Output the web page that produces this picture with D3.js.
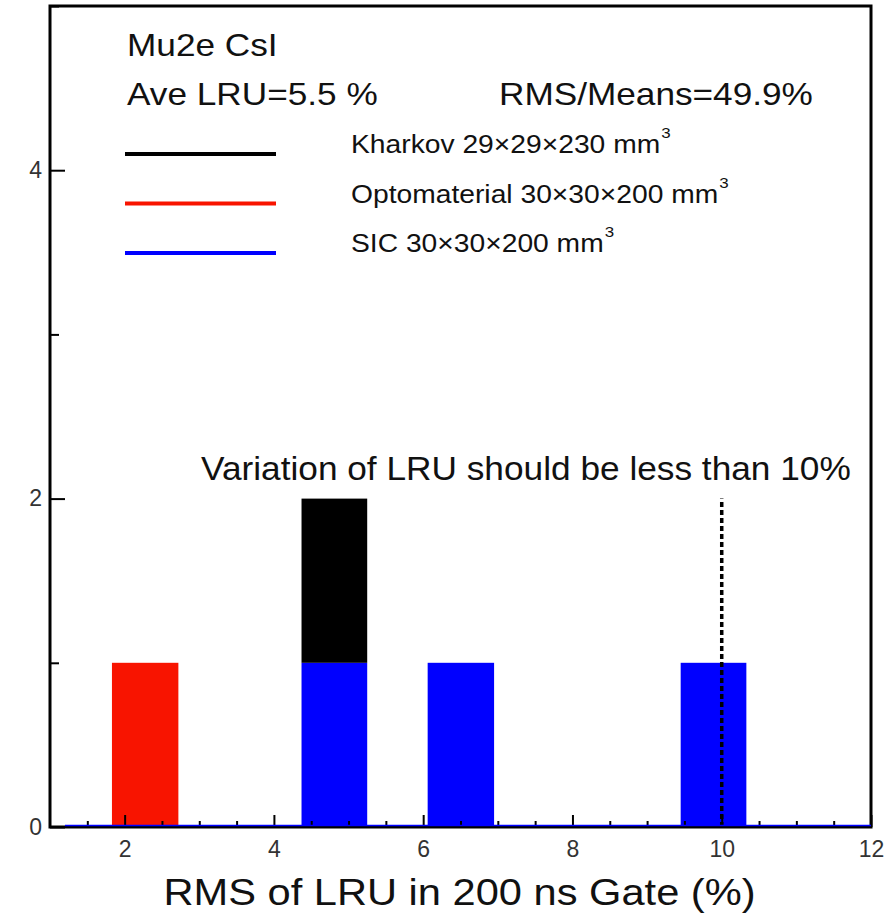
<!DOCTYPE html>
<html>
<head>
<meta charset="UTF-8">
<title>RMS of LRU</title>
<style>
  body { margin: 0; background: #fff; }
  svg text { font-family: "Liberation Sans", Arial, sans-serif; fill: #111; }
</style>
</head>
<body>
<div id="chart"></div>
<script src="https://cdn.jsdelivr.net/npm/d3@7"></script>
<script>
// histogram bins (RMS of LRU, %)
var binLo = [1.83, 4.37, 6.06, 9.45];
var binHi = [2.72, 5.25, 6.95, 10.33];
// counts per bin
var kharkov = [0, 1, 0, 0];
var optomaterial = [1, 0, 0, 0];
var sic = [0, 1, 1, 1];

var stackKeys = ["SIC", "Optomaterial", "Kharkov"];   // bottom -> top
var legendNames = ["Kharkov", "Optomaterial", "SIC"];
var legendDims = ["29×29×230", "30×30×200", "30×30×200"];
var colors = { "Kharkov": "#000000", "Optomaterial": "#f81400", "SIC": "#0000ff" };

var xMajor = [2, 4, 6, 8, 10, 12];
var yMajor = [0, 2, 4];
var yMinor = [1, 3, 5];
var limitLRU = 10;      // "should be less than 10%"
var limitTop = 2;

var width = 891, height = 915;
var margin = { top: 6, right: 20, bottom: 88, left: 50 };

var svg = d3.select("#chart").append("svg")
  .attr("width", width)
  .attr("height", height);

var x = d3.scaleLinear().domain([1, 12]).range([margin.left, width - margin.right]);
var y = d3.scaleLinear().domain([0, 5]).range([height - margin.bottom, margin.top]);

var rows = binLo.map(function(lo, i) {
  return { lo: lo, hi: binHi[i], "Kharkov": kharkov[i], "Optomaterial": optomaterial[i], "SIC": sic[i] };
});
var series = d3.stack().keys(stackKeys)(rows);

svg.append("g")
  .selectAll("g")
  .data(series)
  .join("g")
  .attr("fill", function(d) { return colors[d.key]; })
  .selectAll("rect")
  .data(function(d) { return d.filter(function(v) { return v[1] > v[0]; }); })
  .join("rect")
  .attr("x", function(d) { return x(d.data.lo); })
  .attr("width", function(d) { return x(d.data.hi) - x(d.data.lo); })
  .attr("y", function(d) { return y(d[1]); })
  .attr("height", function(d) { return y(d[0]) - y(d[1]); });

// 10% limit
svg.append("line")
  .attr("x1", x(limitLRU)).attr("x2", x(limitLRU))
  .attr("y1", y(0)).attr("y2", y(limitTop))
  .attr("stroke", "#000")
  .attr("stroke-width", 3.5)
  .attr("stroke-dasharray", "5,3");

// x axis: minor ticks every 0.5, major every 2 (ticks point inwards)
var xMinor = d3.range(1.5, 12, 0.5).filter(function(v) { return xMajor.indexOf(v) < 0; });
var gxMinor = svg.append("g")
  .attr("transform", "translate(0," + y(0) + ")")
  .call(d3.axisBottom(x).tickValues(xMinor).tickSize(-6).tickFormat(""));
var gx = svg.append("g")
  .attr("transform", "translate(0," + y(0) + ")")
  .call(d3.axisBottom(x).tickValues(xMajor).tickSize(-12).tickPadding(14).tickFormat(d3.format("d")));

var gyMinor = svg.append("g")
  .attr("transform", "translate(" + x(1) + ",0)")
  .call(d3.axisLeft(y).tickValues(yMinor).tickSize(-9).tickFormat(""));
var gy = svg.append("g")
  .attr("transform", "translate(" + x(1) + ",0)")
  .call(d3.axisLeft(y).tickValues(yMajor).tickSize(-15).tickPadding(8).tickFormat(d3.format("d")));

[gxMinor, gx, gyMinor, gy].forEach(function(g) {
  g.select(".domain").remove();
  g.selectAll(".tick line").attr("stroke", "#000").attr("stroke-width", 2);
});
gx.selectAll(".tick text").style("font-size", "23px").style("fill", "#333");
gy.selectAll(".tick text").style("font-size", "23px").style("fill", "#333");

// frame
svg.append("rect")
  .attr("x", x(1)).attr("y", y(5))
  .attr("width", x(12) - x(1)).attr("height", y(0) - y(5))
  .attr("fill", "none")
  .attr("stroke", "#000")
  .attr("stroke-width", 3);

// blue histogram baseline
svg.append("line")
  .attr("x1", x(1.2)).attr("x2", x(12))
  .attr("y1", y(0) - 1.5).attr("y2", y(0) - 1.5)
  .attr("stroke", "#0000ff")
  .attr("stroke-width", 1.5);

function label(px, py, size, str, anchor, sx) {
  return svg.append("text")
    .attr("transform", "translate(" + px + "," + py + ") scale(" + (sx || 1.1) + ",1)")
    .attr("font-size", size + "px")
    .attr("text-anchor", anchor || "start")
    .text(str);
}

label(127, 56, 32, "Mu2e CsI");
label(127, 105, 32, "Ave LRU=5.5 %");
label(499, 105, 32, "RMS/Means=49.9%");
label(201, 480, 32.5, "Variation of LRU should be less than 10%", "start", 1.085);
label((x(1) + x(12)) / 2 - 1, 905, 37.5, "RMS of LRU in 200 ns Gate (%)", "middle", 1.11);

// legend
var legend = svg.append("g");
legendNames.forEach(function(name, i) {
  var ly = 154 + i * 49.5;
  legend.append("line")
    .attr("x1", 125).attr("x2", 276)
    .attr("y1", ly).attr("y2", ly)
    .attr("stroke", colors[name])
    .attr("stroke-width", 4);
  var t = legend.append("text")
    .attr("transform", "translate(351," + (ly - 1) + ") scale(1.13,1)")
    .attr("font-size", "25px");
  t.append("tspan").text(name + " " + legendDims[i] + " mm");
  t.append("tspan").attr("font-size", "15px").attr("dy", -15).attr("dx", 1).text("3");
});
</script>
</body>
</html>
